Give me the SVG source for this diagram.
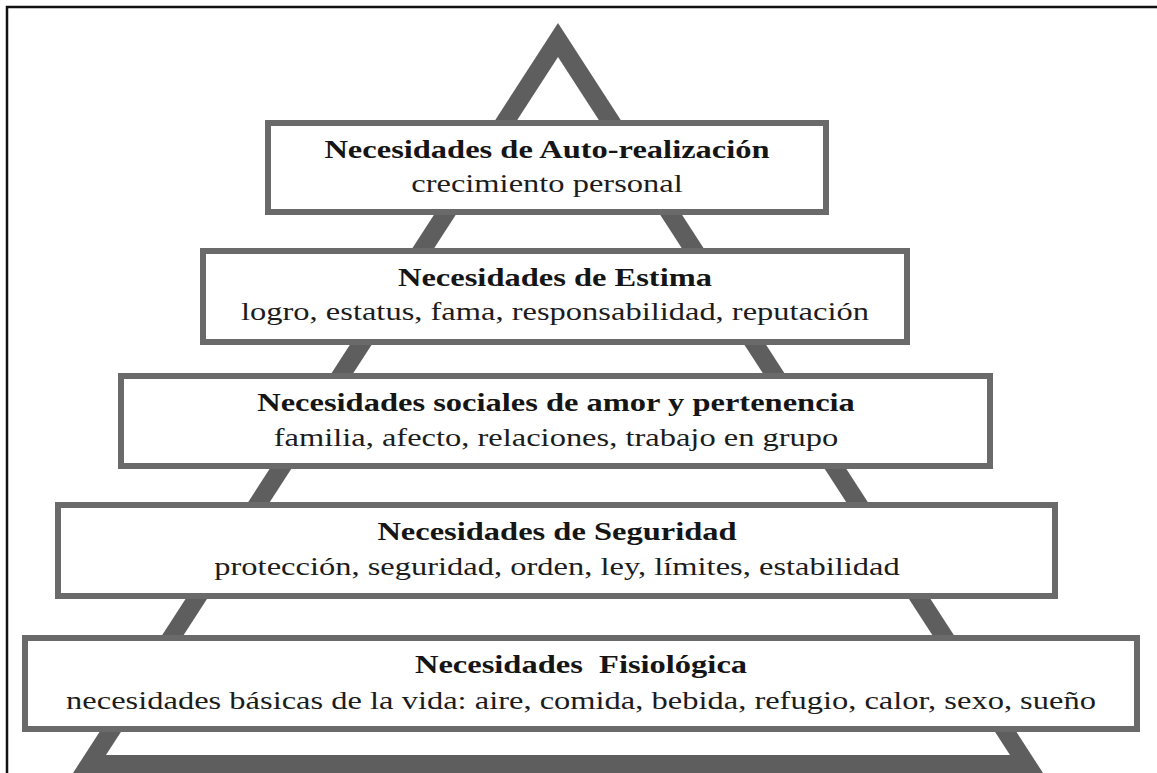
<svg xmlns="http://www.w3.org/2000/svg" width="1157" height="773" viewBox="0 0 1157 773">
<style>
.box{fill:#ffffff;stroke:#6a6a6a;stroke-width:6}
.t{font-family:"Liberation Serif","Times New Roman",serif;font-size:25px;font-weight:bold;fill:#151515;text-anchor:middle}
.s{font-family:"Liberation Serif","Times New Roman",serif;font-size:25px;fill:#1c1c1c;text-anchor:middle}
</style>
<rect x="0" y="0" width="1157" height="773" fill="#ffffff"/>
<rect x="7" y="7" width="1200" height="820" fill="none" stroke="#111" stroke-width="2.5"/>
<g id="pyramid">
<polygon points="558,23 1054,790 62,790" fill="#5e5e5e"/>
<polygon points="558,57 1010,755 106,755" fill="#ffffff"/>
</g>
<g id="connectors"/>
<g id="node-autorealizacion">
<rect class="box" x="268" y="123" width="558" height="89"/>
<text class="t" transform="translate(547,158) scale(1.3,1)">Necesidades de Auto-realización</text>
<text class="s" transform="translate(547,192) scale(1.3,1)">crecimiento personal</text>
</g>
<g id="node-estima">
<rect class="box" x="203" y="251" width="704" height="91"/>
<text class="t" transform="translate(555,286) scale(1.3,1)">Necesidades de Estima</text>
<text class="s" transform="translate(555,320) scale(1.3,1)">logro, estatus, fama, responsabilidad, reputación</text>
</g>
<g id="node-sociales">
<rect class="box" x="121" y="376" width="869" height="90"/>
<text class="t" transform="translate(556,411) scale(1.3,1)">Necesidades sociales de amor y pertenencia</text>
<text class="s" transform="translate(556,446) scale(1.3,1)">familia, afecto, relaciones, trabajo en grupo</text>
</g>
<g id="node-seguridad">
<rect class="box" x="58" y="505" width="997" height="91"/>
<text class="t" transform="translate(557,540) scale(1.3,1)">Necesidades de Seguridad</text>
<text class="s" transform="translate(557,575) scale(1.3,1)">protección, seguridad, orden, ley, límites, estabilidad</text>
</g>
<g id="node-fisiologica">
<rect class="box" x="25" y="638" width="1112" height="91"/>
<text class="t" xml:space="preserve" style="white-space:pre" transform="translate(581,673) scale(1.3,1)">Necesidades  Fisiológica</text>
<text class="s" transform="translate(581,709) scale(1.3,1)">necesidades básicas de la vida: aire, comida, bebida, refugio, calor, sexo, sueño</text>
</g>
</svg>
